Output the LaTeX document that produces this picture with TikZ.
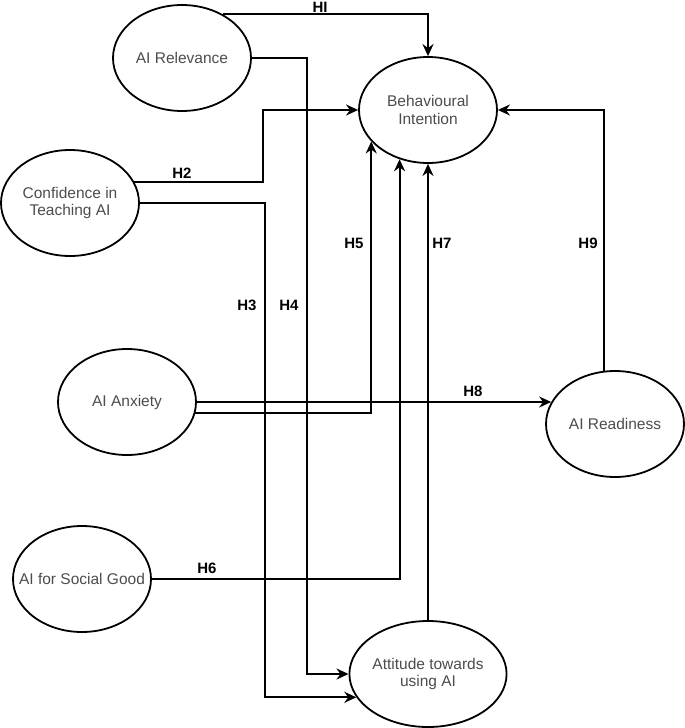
\documentclass[tikz,border=0pt]{standalone}
\usepackage{fontspec}
\setmainfont{Liberation Sans}
\usetikzlibrary{arrows.meta}
\usetikzlibrary{shapes.geometric}

\begin{document}
\begin{tikzpicture}[x=1pt,y=-1pt,
  construct/.style={ellipse,draw,line width=1.8pt,minimum width=138pt,minimum height=106pt,inner sep=0pt,align=center,text=black!70,font=\fontsize{15.5}{17.5}\selectfont},
  link/.style={line width=2pt,-{Stealth[length=12pt,width=11pt]}},
  hyp/.style={inner sep=0pt,font=\fontsize{15}{17}\selectfont\bfseries}]
\useasboundingbox (0,0) rectangle (685,728);
\node[construct] (rel) at (182,58) {AI Relevance};
\node[construct] (bi) at (428,110) {Behavioural\\Intention};
\node[construct] (conf) at (70,203) {Confidence in\\Teaching AI};
\node[construct] (anx) at (127,402) {AI Anxiety};
\node[construct] (ready) at (615,424) {AI Readiness};
\node[construct,inner xsep=-16pt] (social) at (82,579) {AI for Social Good};
\node[construct] (att) at (428,674) {Attitude towards\\using AI};
\draw[link] (rel.47) -| (bi.north);
\draw[link] (conf.18) -| ([xshift=-95pt]bi.west) -- (bi.west);
\draw[link] (conf.east) -- ++(125,0) |- (att.198);
\draw[link] (rel.east) -- ++(55,0) |- (att.west);
\draw[link] (anx.351) -| (bi.209);
\draw[link] (social.east) -| (bi.240);
\draw[link] (att.north) -- (bi.south);
\draw[link] (anx.east) -- (anx.east -| ready.161);
\draw[link] (ready.102) |- (bi.east);
\node[hyp] (h1) at (320,7) {HI};
\node[hyp] (h2) at (182,173) {H2};
\node[hyp] (h3) at (247,305) {H3};
\node[hyp] (h4) at (289,305) {H4};
\node[hyp] (h5) at (354,243) {H5};
\node[hyp] (h6) at (207,568) {H6};
\node[hyp] (h7) at (442,243) {H7};
\node[hyp] (h8) at (473,391) {H8};
\node[hyp] (h9) at (588,243) {H9};
\end{tikzpicture}
\end{document}
